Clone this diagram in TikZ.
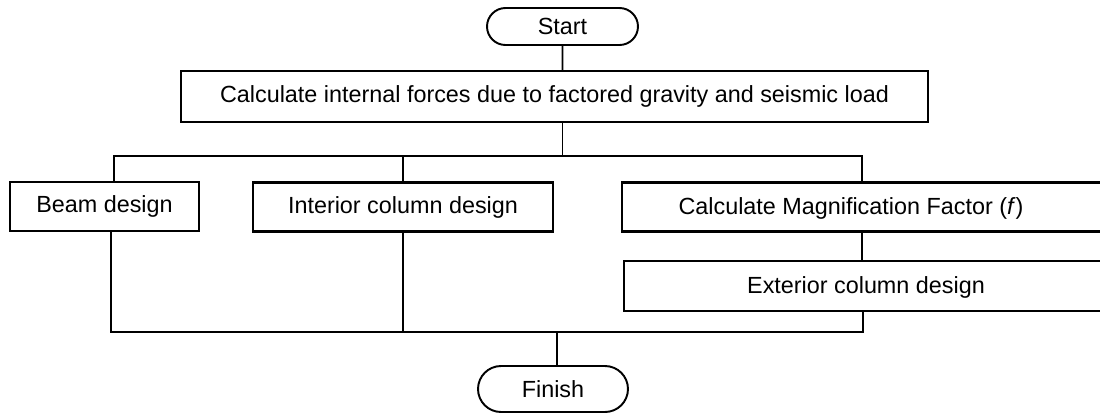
\documentclass[tikz,border=0pt]{standalone}
\usepackage{fontspec}
\setmainfont{Liberation Sans}
\usetikzlibrary{shapes,positioning}

\begin{document}
\begin{tikzpicture}[x=0.02cm, y=-0.02cm, every node/.style={font=\fontsize{13.3}{15}\selectfont}]
        \tikzset{
            stepbox/.style={draw, line width=1.2pt, inner sep=0pt, minimum height=0.98cm},
            terminal/.style={draw, line width=1.1pt, rounded rectangle, inner sep=0pt, minimum width=3cm},
            link/.style={line width=1.1pt}
        }
        \clip (0,0) rectangle (1100,414);

        % Start and first calculation
        \node[terminal, minimum width=3.02cm, minimum height=0.74cm] (start) at (562.5,26.5) {Start};
        \node[stepbox, minimum width=14.94cm, minimum height=1.02cm] (main) at (554.5,96.5) {Calculate internal forces due to factored gravity and seismic load};

        % Design branches
        \node[stepbox, minimum width=3.78cm] (beam) at (104.5,206.5) {Beam design};
        \node[stepbox, minimum width=6cm] (interior) at (403,207) {Interior column design};
        \node[stepbox, minimum width=10cm, anchor=west] (calc) at (621,207) {};
        \node (calctext) at (851,208) {Calculate Magnification Factor (\textit{f})};
        \node[stepbox, minimum width=10cm, minimum height=1cm, anchor=west] (exterior) at (623,286) {};
        \node (exttext) at (866,287) {Exterior column design};

        % Finish terminal
        \node[terminal, minimum height=0.92cm] (finish) at (553,389) {Finish};

        % Split and join lines
        \coordinate (splitL) at (114,156);
        \coordinate (splitR) at (862,156);
        \coordinate (joinL) at (111,332);
        \coordinate (joinR) at (863,332);
        \coordinate (joinM) at (557,332);

        \draw[link] (start) -- (start |- main.north);
        \draw[link] (start |- main.south) -- (start |- splitL);
        \draw[link] (splitL |- beam.north) |- (splitR) -- (splitR |- calc.north);
        \draw[link] (interior.north) -- (interior.north |- splitL);
        \draw[link] (splitR |- calc.south) -- (splitR |- exterior.north);

        \draw[link] (joinL |- beam.south) |- (joinR) -- (joinR |- exterior.south);
        \draw[link] (interior.south) -- (interior.south |- joinL);
        \draw[link] (joinM) -- (joinM |- finish.north);
\end{tikzpicture}
\end{document}
